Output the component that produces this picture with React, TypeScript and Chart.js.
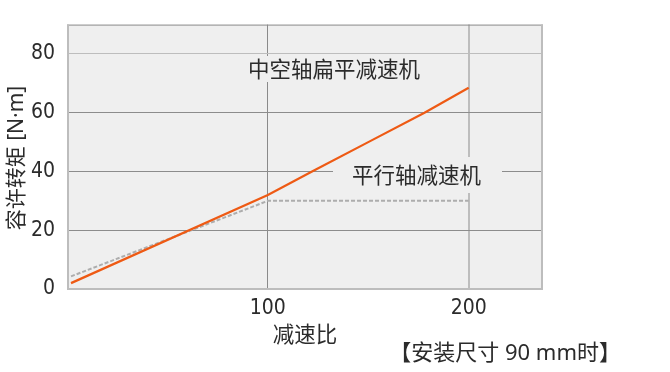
import React, { useEffect, useRef } from "react";
import { Chart, registerables } from "chart.js";

Chart.register(...registerables);

const hollowX = [2, 100, 122, 150, 178, 200];
const hollowY = [2, 32, 40, 50, 60, 68.5];
const parallelX = [2, 100, 200];
const parallelY = [4.3, 30, 30];
const xTicks = [100, 200];
const yTicks = [0, 20, 40, 60, 80];
const hollowLabel = "中空轴扁平减速机";
const parallelLabel = "平行轴减速机";
const xTitle = "减速比";
const yTitle = "容许转矩 [N·m]";
const note = "【安装尺寸 90 mm时】";

const CJK = "'Noto Sans CJK SC', 'Noto Sans', sans-serif";
const LATIN_CJK = "'Noto Sans', 'Noto Sans CJK SC', sans-serif";
const NARROW =
  "'Liberation Sans Narrow', 'DejaVu Sans Condensed', 'Roboto Condensed', 'Noto Sans CJK SC', sans-serif";

const decor = {
  id: "decor",
  beforeDraw(chart: any) {
    const { ctx, chartArea: a } = chart;
    ctx.save();
    ctx.fillStyle = "#efefef";
    ctx.fillRect(a.left, a.top, a.right - a.left, a.bottom - a.top);
    ctx.restore();
  },
  beforeDatasetsDraw(chart: any) {
    const { ctx, chartArea: a } = chart;
    ctx.save();
    ctx.strokeStyle = "#8c8c8c";
    ctx.lineWidth = 1;
    ctx.beginPath();
    ctx.moveTo(a.left, a.top + 0.5);
    ctx.lineTo(a.right, a.top + 0.5);
    ctx.stroke();
    ctx.strokeStyle = "#bdbdbd";
    ctx.lineWidth = 2;
    ctx.beginPath();
    ctx.moveTo(a.left + 1, a.top);
    ctx.lineTo(a.left + 1, a.bottom);
    ctx.lineTo(a.right - 1, a.bottom);
    ctx.lineTo(a.right - 1, a.top);
    ctx.stroke();
    ctx.fillStyle = "#efefef";
    ctx.fillRect(240, 56, 192, 26);
    ctx.fillRect(333, 157, 169, 36);
    ctx.fillStyle = "#2b2b2b";
    ctx.font = "21.5px " + CJK;
    ctx.textAlign = "left";
    ctx.textBaseline = "middle";
    ctx.fillText(hollowLabel, 248, 69);
    ctx.fillText(parallelLabel, 352, 175);
    ctx.textAlign = "center";
    ctx.fillText(xTitle, 305, 334);
    ctx.textAlign = "right";
    ctx.font = "22px " + LATIN_CJK;
    ctx.fillText(note, 621, 354);
    ctx.font = "21px " + LATIN_CJK;
    ctx.translate(17, 158);
    ctx.rotate(-Math.PI / 2);
    ctx.textAlign = "center";
    ctx.fillText(yTitle, 0, 0);
    ctx.restore();
  },
};

export default function App() {
  const ref = useRef<HTMLCanvasElement>(null);
  useEffect(() => {
    if (!ref.current) return;
    const chart = new Chart(ref.current, {
      type: "line",
      data: {
        datasets: [
          {
            label: hollowLabel,
            data: hollowX.map((x, i) => ({ x, y: hollowY[i] })),
            borderColor: "#ee5a14",
            borderWidth: 2.2,
            pointRadius: 0,
            tension: 0,
          },
          {
            label: parallelLabel,
            data: parallelX.map((x, i) => ({ x, y: parallelY[i] })),
            borderColor: "#adadad",
            borderWidth: 2,
            borderDash: [4, 2],
            pointRadius: 0,
            tension: 0,
          },
        ],
      },
      options: {
        responsive: false,
        animation: false,
        layout: { padding: { top: 10, right: 127, left: 0, bottom: 0 } },
        plugins: { legend: { display: false }, tooltip: { enabled: false } },
        scales: {
          x: {
            type: "linear",
            min: 0,
            max: 237,
            afterFit(s: any) {
              s.height = 83;
            },
            afterBuildTicks(s: any) {
              s.ticks = xTicks.map((v) => ({ value: v }));
            },
            border: { display: false },
            grid: {
              drawTicks: false,
              color: (c: any) => (c.tick && c.tick.value === 200 ? "#bdbdbd" : "#8a8a8a"),
              lineWidth: (c: any) => (c.tick && c.tick.value === 200 ? 2 : 1),
            },
            ticks: {
              padding: 7,
              color: "#2b2b2b",
              font: { family: NARROW, size: 21 },
              maxRotation: 0,
            },
          },
          y: {
            min: 0,
            max: 90,
            afterFit(s: any) {
              s.width = 67;
            },
            afterBuildTicks(s: any) {
              s.ticks = yTicks.map((v) => ({ value: v }));
            },
            border: { display: false },
            grid: {
              drawTicks: false,
              color: (c: any) =>
                c.tick && c.tick.value === 80
                  ? "#bdbdbd"
                  : c.tick && c.tick.value === 0
                  ? "rgba(0,0,0,0)"
                  : "#8c8c8c",
            },
            ticks: {
              padding: 12,
              color: "#2b2b2b",
              font: { family: NARROW, size: 21 },
            },
          },
        },
      },
      plugins: [decor],
    });
    return () => chart.destroy();
  }, []);
  return (
    <div style={{ position: "fixed", left: 0, top: 0, width: 670, height: 372, background: "#fff" }}>
      <canvas ref={ref} width={670} height={372} style={{ display: "block" }} />
    </div>
  );
}
